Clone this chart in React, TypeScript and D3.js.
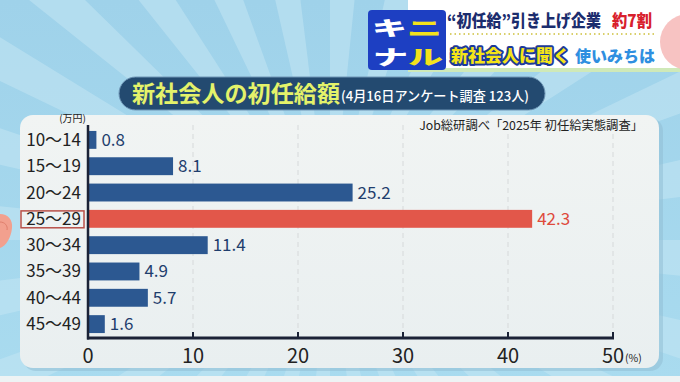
import React from "react";
import * as d3 from "d3";

const categories = ["10〜14", "15〜19", "20〜24", "25〜29", "30〜34", "35〜39", "40〜44", "45〜49"];
const values = [0.8, 8.1, 25.2, 42.3, 11.4, 4.9, 5.7, 1.6];
const highlightCategory = "25〜29";
const xTicks = [0, 10, 20, 30, 40, 50];
const titleMain = "新社会人の初任給額";
const titleSub = "(4月16日アンケート調査 123人)";
const sourceText = "Job総研調べ「2025年 初任給実態調査」";
const unitY = "(万円)";
const unitX = "(%)";

const W = 680;
const H = 382;
const FONT = "'Noto Sans CJK JP', 'Noto Sans', sans-serif";

export default function App() {
  const x = d3.scaleLinear().domain([0, 50]).range([88, 613]);
  const y = d3.scaleBand<string>().domain(categories).range([127, 337]).paddingInner(0.32).paddingOuter(0.15);

  // background rays
  const cx = 330, cy = 240, R = 900;
  const nRays = 28;
  const rays = d3.range(nRays).map((i) => {
    const a0 = (i / nRays) * Math.PI * 2;
    const a1 = a0 + (Math.PI * 2) / nRays / 2.2;
    return `M${cx},${cy}L${cx + R * Math.cos(a0)},${cy + R * Math.sin(a0)}L${cx + R * Math.cos(a1)},${cy + R * Math.sin(a1)}Z`;
  });

  const axisY = 338;
  const bw = y.bandwidth();

  return (
    <svg width={W} height={H} style={{ position: "absolute", left: 0, top: 0, display: "block" }} fontFamily={FONT}>
      <defs>
        <linearGradient id="panelGrad" x1="0" y1="0" x2="0" y2="1">
          <stop offset="0" stopColor="#f1f4f3" />
          <stop offset="1" stopColor="#e9eff0" />
        </linearGradient>
        <linearGradient id="bgGrad" x1="0" y1="0" x2="0" y2="1">
          <stop offset="0" stopColor="#9fd2ea" />
          <stop offset="1" stopColor="#a9dbef" />
        </linearGradient>
      </defs>
      <rect x={0} y={0} width={W} height={H} fill="url(#bgGrad)" />
      <g fill="#c4e6f4" opacity={0.55}>
        {rays.map((d, i) => (
          <path key={i} d={d} />
        ))}
      </g>
      {/* bottom white strip */}
      <rect x={0} y={376} width={W} height={6} fill="#eef3f4" />

      {/* pink hand at left */}
      <path d="M0,214 C8,214 13,220 12,228 C11,238 6,246 0,248 Z" fill="#f2a08e" />
      <path d="M0,222 C5,222 8,226 7,230" stroke="#e07f6c" fill="none" strokeWidth={1} />

      {/* panel */}
      <rect x={23} y={118} width={640} height={253} rx={13} fill="#8fbcd2" opacity={0.5} />
      <rect x={20} y={115} width={639} height={253} rx={13} fill="url(#panelGrad)" />

      {/* title pill */}
      <rect x={119} y={77} width={426} height={33} rx={16.5} fill="#234a70" stroke="#6e95b5" strokeWidth={1} />
      <text x={132} y={102} fontSize={23} fontWeight={700} fill="#e4f26a" textLength={208} lengthAdjust="spacingAndGlyphs">
        {titleMain}
      </text>
      <text x={341} y={101} fontSize={13.5} fontWeight={500} fill="#ffffff" textLength={188} lengthAdjust="spacingAndGlyphs">
        {titleSub}
      </text>

      {/* top-right banner */}
      <rect x={408} y={0} width={272} height={70} fill="#ffffff" />
      <rect x={408} y={68} width={272} height={4} fill="#cfe9b8" />
      <circle cx={688} cy={42} r={28} fill="#f6b9b7" opacity={0.85} />
      <text x={447} y={27} fontSize={16.5} fontWeight={900} fill="#1b2d6e" textLength={154} lengthAdjust="spacingAndGlyphs">
        “初任給”引き上げ企業
      </text>
      <text x={612} y={27} fontSize={16.5} fontWeight={900} fill="#d8202c" textLength={40} lengthAdjust="spacingAndGlyphs">
        約7割
      </text>
      <line x1={450} x2={656} y1={34} y2={34} stroke="#d9cf6a" strokeWidth={2} strokeDasharray="1.5 3" />
      <text x={451} y={62} fontSize={17} fontWeight={900} fill="#f4e417" stroke="#1c3a9a" strokeWidth={4} paintOrder="stroke" strokeLinejoin="round">
        新社会人に聞く
      </text>
      <text x={575} y={62} fontSize={16} fontWeight={900} fill="#2f8fe0" stroke="#ffffff" strokeWidth={3} paintOrder="stroke" strokeLinejoin="round">
        使いみちは
      </text>
      {/* logo キニナル */}
      <rect x={368} y={10} width={78} height={60} rx={4} fill="#1d3fc2" />
      <g fontWeight={900} stroke="#1d3fc2" strokeWidth={4} paintOrder="stroke" strokeLinejoin="round" fontSize={20}>
        <text x={372} y={36} textLength={70} lengthAdjust="spacingAndGlyphs">
          <tspan fill="#ffffff">キ</tspan>
          <tspan fill="#f3e21c">ニ</tspan>
        </text>
        <text x={373} y={65} textLength={70} lengthAdjust="spacingAndGlyphs">
          <tspan fill="#ffffff">ナ</tspan>
          <tspan fill="#f3e21c">ル</tspan>
        </text>
      </g>

      {/* gridlines */}
      {xTicks.filter((t) => t > 0).map((t) => (
        <line key={"g" + t} x1={x(t)} x2={x(t)} y1={125} y2={axisY} stroke="#d6d9da" strokeWidth={1} strokeDasharray="5 4" />
      ))}

      {/* source */}
      <text x={643} y={130} fontSize={12.3} textAnchor="end" fill="#222">
        {sourceText}
      </text>

      {/* unit y */}
      <text x={86} y={122} fontSize={10} textAnchor="end" fill="#222">
        {unitY}
      </text>

      {/* bars */}
      {categories.map((c, i) => {
        const hl = c === highlightCategory;
        return (
          <g key={c}>
            <rect x={x(0)} y={y(c)!} width={x(values[i]) - x(0)} height={bw} fill={hl ? "#e2574a" : "#2c5891"} />
            <text x={x(values[i]) + 5} y={y(c)! + bw / 2 + 6} fontSize={17} fill={hl ? "#de4a3c" : "#1f3e6d"}>
              {values[i].toFixed(1)}
            </text>
            <text x={81} y={y(c)! + bw / 2 + 6} fontSize={17} textAnchor="end" fill="#222">
              {c}
            </text>
            {hl && (
              <rect x={21} y={y(c)! + 1} width={63} height={bw - 1} fill="none" stroke="#b85048" strokeWidth={1.5} />
            )}
          </g>
        );
      })}

      {/* axes */}
      <line x1={x(0)} x2={x(0)} y1={125} y2={axisY + 1.5} stroke="#1b2236" strokeWidth={2.5} />
      <line x1={x(0) - 1} x2={x(50) + 1} y1={axisY} y2={axisY} stroke="#1b2236" strokeWidth={3} />
      {xTicks.filter((t) => t > 0).map((t) => (
        <line key={"t" + t} x1={x(t)} x2={x(t)} y1={axisY - 6} y2={axisY} stroke="#1b2236" strokeWidth={2} />
      ))}
      {xTicks.map((t) => (
        <text key={"l" + t} x={x(t)} y={axisY + 25} fontSize={20} textAnchor="middle" fill="#222">
          {t}
        </text>
      ))}
      <text x={x(50) + 12} y={axisY + 24} fontSize={10.5} fill="#222">
        {unitX}
      </text>
    </svg>
  );
}
